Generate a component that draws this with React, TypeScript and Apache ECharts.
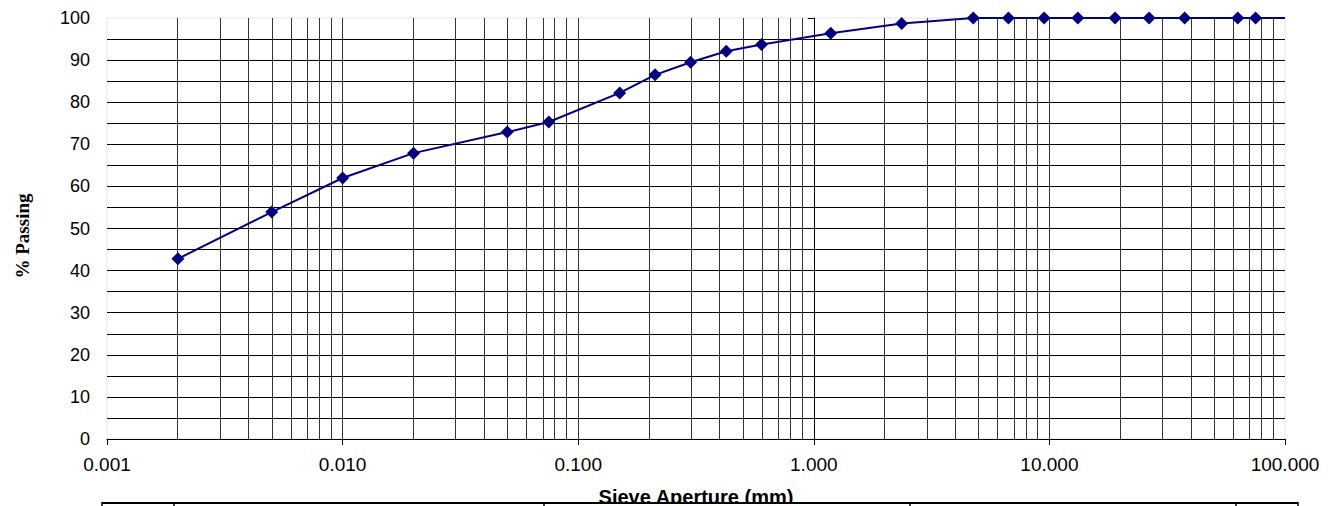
import React, { useEffect, useRef } from "react";
import * as echarts from "echarts";

const sieveSizes = [0.002, 0.005, 0.01, 0.02, 0.05, 0.075, 0.15, 0.212, 0.3, 0.425, 0.6, 1.18, 2.36, 4.75, 6.7, 9.5, 13.2, 19, 26.5, 37.5, 63, 75];
const percentPassing = [42.8, 53.9, 62.0, 67.9, 72.9, 75.3, 82.2, 86.5, 89.5, 92.1, 93.7, 96.4, 98.7, 100, 100, 100, 100, 100, 100, 100, 100, 100];
const lineEnd = [100, 100];
const decades = [0.001, 0.01, 0.1, 1, 10];
const minorMultipliers = [2, 3, 4, 5, 6, 7, 8, 9];
const xMinSize = 0.001;
const xMaxSize = 100;
const xTitle = "Sieve Aperture (mm)";
const yTitle = "% Passing";
const tableColumnEdges = [102, 174, 544, 910, 1236, 1298];

const lg = (v: number) => Math.log10(v);

export default function App() {
  const ref = useRef<HTMLDivElement>(null);
  useEffect(() => {
    document.body.style.margin = "0";
    if (!ref.current) return;
    const chart = echarts.init(ref.current, null, { renderer: "svg" });
    const minorLines: any[] = [];
    decades.forEach((d) => minorMultipliers.forEach((m) => minorLines.push({ xAxis: lg(m * d) })));
    const data: any[] = sieveSizes.map((s, i) => [lg(s), percentPassing[i]]);
    data.push({ value: [lg(lineEnd[0]), lineEnd[1]], symbol: "none" });
    const font = "'Liberation Sans', Arial, sans-serif";
    const graphics: any[] = [
      {
        type: "text",
        x: 22,
        y: 236,
        rotation: Math.PI / 2,
        style: {
          text: yTitle,
          fontFamily: "'Liberation Serif', 'Times New Roman', serif",
          fontWeight: "bold",
          fontSize: 19,
          fill: "#000",
          align: "center",
          verticalAlign: "middle",
        },
        z: 100,
      },
      { type: "rect", shape: { x: 0, y: 502, width: 1332, height: 4 }, style: { fill: "#fff" }, z: 100 },
      { type: "line", shape: { x1: tableColumnEdges[0], y1: 503, x2: tableColumnEdges[tableColumnEdges.length - 1], y2: 503 }, style: { stroke: "#000", lineWidth: 2 }, z: 101 },
      ...tableColumnEdges.map((x) => ({ type: "line", shape: { x1: x, y1: 502, x2: x, y2: 506 }, style: { stroke: "#000", lineWidth: 1.5 }, z: 101 })),
    ];
    chart.setOption({
      animation: false,
      backgroundColor: "#fff",
      grid: { left: 107, right: 47, top: 18, bottom: 67, show: true, borderColor: "#e4e4e4", borderWidth: 1, containLabel: false, outerBoundsMode: "none" },
      xAxis: {
        type: "value",
        min: lg(xMinSize),
        max: lg(xMaxSize),
        interval: 1,
        name: xTitle,
        nameLocation: "middle",
        nameGap: 48,
        nameTextStyle: { fontFamily: font, fontWeight: "bold", fontSize: 20, color: "#000" },
        axisLine: { show: true, lineStyle: { color: "#000", width: 1 } },
        axisTick: { show: true, length: 6, lineStyle: { color: "#000" } },
        axisLabel: { fontFamily: font, fontSize: 19, color: "#000", margin: 16, formatter: (v: number) => Math.pow(10, v).toFixed(3) },
        splitLine: { show: true, showMinLine: false, showMaxLine: false, lineStyle: { color: "#333", width: 1 } },
      },
      yAxis: {
        type: "value",
        min: 0,
        max: 100,
        interval: 10,
        axisLine: { show: true, lineStyle: { color: "#000", width: 1 } },
        axisTick: { show: true, length: 6, lineStyle: { color: "#000" } },
        axisLabel: { fontFamily: font, fontSize: 18, color: "#000", margin: 17 },
        splitLine: { show: true, showMinLine: false, showMaxLine: false, lineStyle: { color: "#000", width: 1 } },
        minorTick: { show: false, splitNumber: 2 },
        minorSplitLine: { show: true, lineStyle: { color: "#000", width: 1 } },
      },
      series: [
        {
          type: "line",
          data,
          symbol: "diamond",
          symbolSize: 13,
          itemStyle: { color: "#000080" },
          lineStyle: { color: "#000080", width: 2 },
          clip: false,
          z: 5,
          markLine: {
            silent: true,
            symbol: "none",
            label: { show: false },
            lineStyle: { color: "#333", width: 1, type: "solid" },
            data: minorLines,
            z: 1,
          },
        },
      ],
      graphic: graphics,
    });
    return () => chart.dispose();
  }, []);
  return <div ref={ref} style={{ width: 1332, height: 506 }} />;
}
